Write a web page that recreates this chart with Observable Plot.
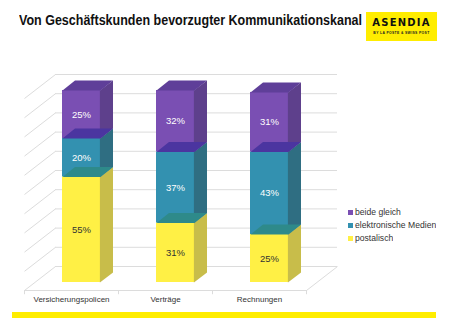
<!DOCTYPE html>
<html><head><meta charset="utf-8">
<script src="https://cdn.jsdelivr.net/npm/d3@7"></script>
<script src="https://cdn.jsdelivr.net/npm/@observablehq/plot@0.6"></script>
<style>
html,body{margin:0;padding:0;background:#fff;}
#wrap{position:relative;width:449px;height:321px;overflow:hidden;font-family:"Liberation Sans",Arial,sans-serif;}
#chart{position:absolute;left:0;top:0;}
#title{position:absolute;left:19px;top:12px;font-weight:bold;font-size:14.5px;color:#111;white-space:nowrap;transform-origin:0 0;}
#logo{position:absolute;left:366px;top:12px;width:71px;height:29px;background:#FFED00;}
#logo .big{position:absolute;left:0;width:71px;top:6px;text-align:center;font-weight:bold;font-size:10px;letter-spacing:1.2px;color:#111;font-family:"DejaVu Sans","Liberation Sans",sans-serif;line-height:10px;}
#logo .small{position:absolute;left:0;width:71px;top:19px;text-align:center;font-size:3.4px;letter-spacing:0.35px;font-weight:bold;color:#222;line-height:4px;}
#legend{position:absolute;left:348px;top:206px;width:100px;}
#legend > div{font-family:"Liberation Sans",Arial,sans-serif !important;font-size:8.6px !important;color:#333 !important;margin:0 !important;min-height:0 !important;}
#legend > div > *:not(style){padding-bottom:0 !important;height:13px !important;line-height:13px !important;display:flex;align-items:center;white-space:nowrap;}
#legend > div > *:not(style) svg{margin-right:2px !important;}
#legend > div span{overflow:visible !important;}
#bar{position:absolute;left:12px;top:312px;width:424px;height:6px;background:#FFED00;}
</style></head>
<body><div id="wrap">
<div id="chart"></div>
<div id="title">Von Geschäftskunden bevorzugter Kommunikationskanal</div>
<div id="logo"><div class="big">ASENDIA</div><div class="small">BY LA POSTE &amp; SWISS POST</div></div>
<div id="legend"></div>
<div id="bar"></div>
</div>
<script>
const categories = ["Versicherungspolicen", "Verträge", "Rechnungen"];
const seriesNames = ["postalisch", "elektronische Medien", "beide gleich"];
const postalisch = [55, 31, 25];
const elektronisch = [20, 37, 43];
const beideGleich = [25, 32, 31];
const yTicks = [0, 10, 20, 30, 40, 50, 60, 70, 80, 90, 100];

const frontColors = ["#FFF045", "#3391B0", "#7A4FB3"];
const sideColors = ["#C8BD4A", "#2F6E82", "#5E408C"];
const topColors = ["#2E8A8A", "#4B35A0", "#5F3F99"];

// layout (pixels)
const W = 449, H = 321;
const xLeft = 24, xRight = 306, yBottom = 290, yTop = 98;
const pxX = (xRight - xLeft) / 3, pxY = (yBottom - yTop) / 100;
const backDX = 31, backDY = 24;      // depth of the floor / back wall
const barDX = 10, barDY = 8;         // bar front plane offset
const depthDX = 12.5, depthDY = 10;  // bar depth
const halfW = 19 / pxX;
const bXu = backDX / pxX, bYu = backDY / pxY;
const dXu = depthDX / pxX, dYu = depthDY / pxY;
const overlap = 0.6 / pxX;

const values = [postalisch, elektronisch, beideGleich];
const rows = [];
categories.forEach((c, i) => {
  let cum = 0;
  values.forEach((arr, s) => {
    const v = arr[i];
    rows.push({i, cat: c, s, value: v, lo: cum, hi: cum + v});
    cum += v;
  });
});

const sidePts = [], topPts = [];
rows.forEach((r, k) => {
  const xc = r.i + 0.5, x1 = xc - halfW, x2 = xc + halfW;
  const sc = sideColors[r.s];
  sidePts.push({k, x: x2 - overlap, y: r.lo, c: sc}, {k, x: x2 + dXu, y: r.lo + dYu, c: sc},
               {k, x: x2 + dXu, y: r.hi + dYu, c: sc}, {k, x: x2 - overlap, y: r.hi, c: sc});
  const tc = topColors[r.s];
  topPts.push({k, x: x1, y: r.hi, c: tc}, {k, x: x2, y: r.hi, c: tc},
              {k, x: x2 + dXu, y: r.hi + dYu, c: tc}, {k, x: x1 + dXu, y: r.hi + dYu, c: tc});
});

const grid = "#dcdcdc";
const shift = {dx: barDX, dy: -barDY};

const chart = Plot.plot({
  width: W, height: H,
  marginLeft: xLeft, marginRight: W - xRight, marginTop: yTop, marginBottom: H - yBottom,
  x: {domain: [0, 3], axis: null},
  y: {domain: [0, 100], axis: null},
  color: {type: "identity"},
  style: {background: "transparent", fontFamily: "'Liberation Sans', Arial, sans-serif"},
  marks: [
    Plot.ruleY(yTicks, {x1: 0, x2: 3, dx: backDX, dy: -backDY, stroke: grid, strokeWidth: 1}),
    Plot.link(yTicks, {x1: 0, y1: d => d, x2: bXu, y2: d => d + bYu, stroke: grid, strokeWidth: 1}),
    Plot.link([0], {x1: 3, y1: 0, x2: 3 + bXu, y2: bYu, stroke: grid, strokeWidth: 1}),
    Plot.ruleY([0], {x1: 0, x2: 3, stroke: grid, strokeWidth: 1}),
    Plot.ruleX([0, 1, 2, 3], {y1: 0, y2: -2.2, stroke: grid, strokeWidth: 1}),
    Plot.text(categories, {x: (d, i) => i + 0.5, y: 0, dy: 8.5, text: d => d, fontSize: 8, fill: "#333"}),
    Plot.rect(rows, {x1: d => d.i + 0.5 - halfW, x2: d => d.i + 0.5 + halfW, y1: "lo", y2: "hi", fill: d => frontColors[d.s], ...shift}),
    Plot.line(sidePts, {x: "x", y: "y", z: "k", fill: "c", stroke: null, curve: "linear", ...shift}),
    Plot.line(topPts, {x: "x", y: "y", z: "k", fill: "c", stroke: null, curve: "linear", ...shift}),
    Plot.text(rows, {x: d => d.i + 0.5, y: d => (d.lo + d.hi) / 2, text: d => d.value + "%", fontSize: 9.5,
      fill: d => d.s === 0 ? "#333" : "#fff", ...shift})
  ]
});
document.getElementById("chart").appendChild(chart);

const legend = Plot.legend({
  color: {type: "ordinal", domain: seriesNames.slice().reverse(), range: frontColors.slice().reverse()},
  columns: 1, swatchSize: 5
});
document.getElementById("legend").appendChild(legend);

// fit title width to reference
const t = document.getElementById("title");
const w = t.getBoundingClientRect().width;
t.style.transform = `scaleX(${343 / w})`;
</script>
</body></html>
